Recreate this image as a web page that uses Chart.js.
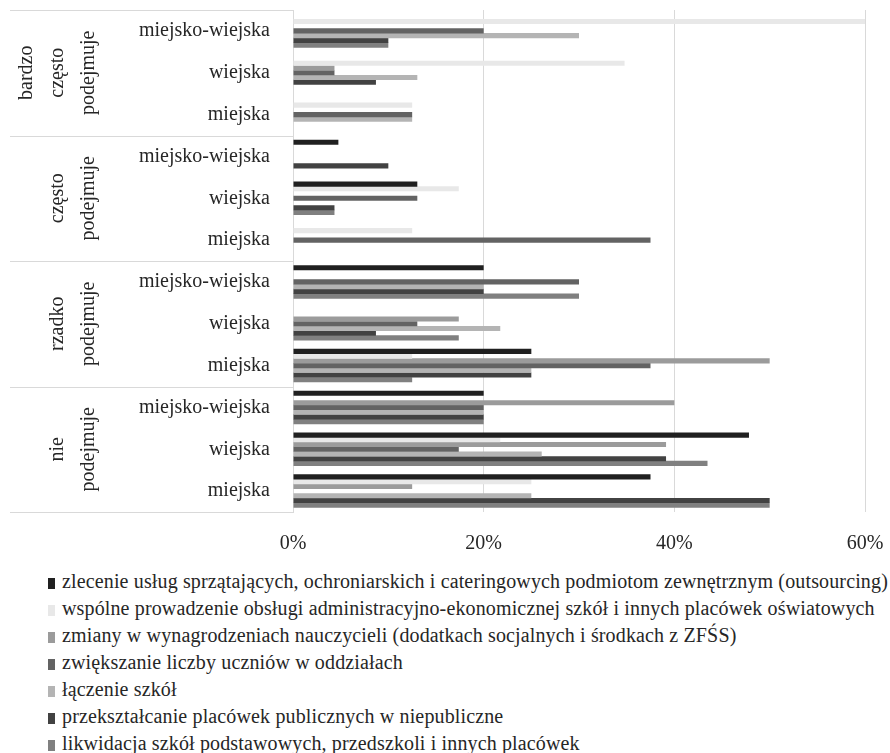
<!DOCTYPE html>
<html>
<head>
<meta charset="utf-8">
<script src="https://cdn.jsdelivr.net/npm/chart.js@4"></script>
<style>
  body { margin: 0; background: #fff; }
  #wrap { position: relative; width: 890px; height: 753px; overflow: hidden; }
  #c { position: absolute; left: 0; top: 0; }
  #legend { position: absolute; left: 48px; top: 568px; font-family: "Liberation Serif", "Times New Roman", Tinos, "DejaVu Serif", serif; font-size: 20px; letter-spacing: 0.14px; color: #262626; }
  .row { height: 27px; line-height: 27px; white-space: nowrap; }
  .sw { display: inline-block; width: 7px; height: 11px; margin-right: 7px; vertical-align: -1px; }
</style>
</head>
<body>
<div id="wrap">
  <canvas id="c" width="890" height="565"></canvas>
  <div id="legend"></div>
</div>
<script>
// Categories (top to bottom)
const groups = ["bardzo często podejmuje", "często podejmuje", "rzadko podejmuje", "nie podejmuje"];
const subCats = ["miejsko-wiejska", "wiejska", "miejska"];
const categories = [
  "miejsko-wiejska", "wiejska", "miejska",
  "miejsko-wiejska", "wiejska", "miejska",
  "miejsko-wiejska", "wiejska", "miejska",
  "miejsko-wiejska", "wiejska", "miejska"
];
const seriesNames = [
  "zlecenie usług sprzątających, ochroniarskich i cateringowych podmiotom zewnętrznym (outsourcing)",
  "wspólne prowadzenie obsługi administracyjno-ekonomicznej szkół i innych placówek oświatowych",
  "zmiany w wynagrodzeniach nauczycieli (dodatkach socjalnych i środkach z ZFŚS)",
  "zwiększanie liczby uczniów w oddziałach",
  "łączenie szkół",
  "przekształcanie placówek publicznych w niepubliczne",
  "likwidacja szkół podstawowych, przedszkoli i innych placówek"
];
const zlecenie        = [0, 0, 0,      4.76, 13.04, 0,     20, 0, 25,        20, 47.83, 37.5];
const wspolne         = [60, 34.78, 12.5, 0, 17.39, 12.5,  0, 0, 12.5,       0, 21.74, 25];
const zmiany          = [0, 4.35, 0,   0, 0, 0,            0, 17.39, 50,     40, 39.13, 12.5];
const zwiekszanie     = [20, 4.35, 12.5, 0, 13.04, 37.5,   30, 13.04, 37.5,  20, 17.39, 0];
const laczenie        = [30, 13.04, 12.5, 0, 0, 0,         20, 21.74, 25,    20, 26.09, 25];
const przeksztalcanie = [10, 8.7, 0,   10, 4.35, 0,        20, 8.7, 25,      20, 39.13, 50];
const likwidacja      = [10, 0, 0,     0, 4.35, 0,         30, 17.39, 12.5,  20, 43.48, 50];
const xTicks = [0, 20, 40, 60];

const seriesValues = [zlecenie, wspolne, zmiany, zwiekszanie, laczenie, przeksztalcanie, likwidacja];
const colors = ["#202020", "#e8e8e8", "#9b9b9b", "#636363", "#b4b4b4", "#424242", "#808080"];

const FONT = '"Liberation Serif", "Times New Roman", Tinos, "DejaVu Serif", serif';
const GRID = "#d9d9d9";

const groupPlugin = {
  id: 'groupPlugin',
  afterDraw(chart) {
    const ctx = chart.ctx;
    const y = chart.scales.y;
    const axisX = chart.chartArea.left;
    ctx.save();
    ctx.strokeStyle = GRID;
    ctx.lineWidth = 1;
    for (let g = 0; g <= groups.length; g++) {
      const py = Math.round(y.getPixelForValue(g * 3 - 0.5)) + 0.5;
      ctx.beginPath();
      ctx.moveTo(10, py);
      ctx.lineTo(axisX, py);
      ctx.stroke();
    }
    ctx.fillStyle = "#262626";
    ctx.font = "20px " + FONT;
    ctx.textAlign = "center";
    ctx.textBaseline = "middle";
    for (let g = 0; g < groups.length; g++) {
      const top = y.getPixelForValue(g * 3 - 0.5);
      const bot = y.getPixelForValue(g * 3 + 2.5);
      const cy = (top + bot) / 2;
      const words = groups[g].split(" ");
      const n = words.length;
      words.forEach((w, j) => {
        const cx = 89 - (n - 1 - j) * 31;
        ctx.save();
        ctx.translate(cx, cy);
        ctx.rotate(-Math.PI / 2);
        ctx.fillText(w, 0, 0);
        ctx.restore();
      });
    }
    ctx.restore();
  }
};

new Chart(document.getElementById('c'), {
  type: 'bar',
  data: {
    labels: categories,
    datasets: seriesValues.map((vals, i) => ({
      label: seriesNames[i],
      data: vals,
      backgroundColor: colors[i],
      borderWidth: 0,
      categoryPercentage: 0.79,
      barPercentage: 1.08
    }))
  },
  options: {
    indexAxis: 'y',
    responsive: false,
    animation: false,
    devicePixelRatio: 1,
    layout: { padding: { top: 10, right: 25, bottom: 9, left: 0 } },
    plugins: { legend: { display: false }, tooltip: { enabled: false } },
    scales: {
      x: {
        min: 0, max: 60,
        afterBuildTicks(scale) { scale.ticks = xTicks.map(v => ({ value: v })); },
        afterFit(scale) { scale.paddingLeft = 0; scale.paddingRight = 0; scale.height = 44; },
        ticks: { callback: v => v + '%', font: { family: FONT, size: 20 }, color: '#262626', padding: 20 },
        grid: { color: GRID, drawTicks: false },
        border: { display: false }
      },
      y: {
        afterFit(scale) { scale.width = 293; scale.paddingTop = 0; scale.paddingBottom = 0; },
        ticks: { font: { family: FONT, size: 20 }, color: '#262626', padding: 23 },
        grid: { display: false, drawTicks: false },
        border: { display: true, color: GRID }
      }
    }
  },
  plugins: [groupPlugin]
});

const legend = document.getElementById('legend');
seriesNames.forEach((name, i) => {
  const row = document.createElement('div');
  row.className = 'row';
  const sw = document.createElement('span');
  sw.className = 'sw';
  sw.style.background = colors[i];
  row.appendChild(sw);
  row.appendChild(document.createTextNode(name));
  legend.appendChild(row);
});
</script>
</body>
</html>
